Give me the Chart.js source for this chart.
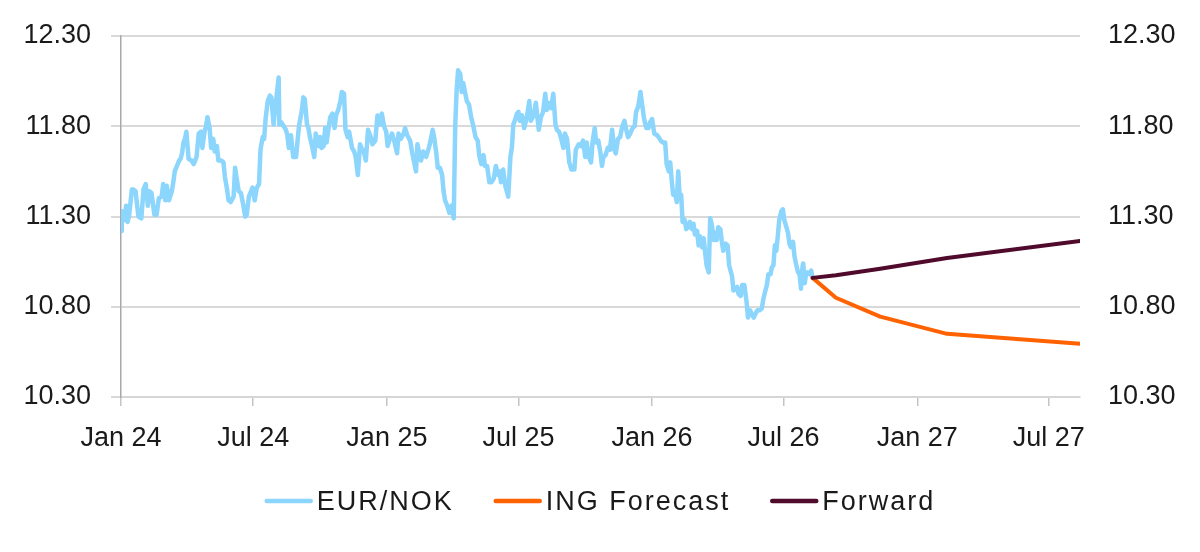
<!DOCTYPE html>
<html>
<head>
<meta charset="utf-8">
<script src="https://cdn.jsdelivr.net/npm/chart.js@4.4.1/dist/chart.umd.min.js"></script>
<style>
  html, body { margin: 0; padding: 0; background: #ffffff; }
  #wrap { width: 1200px; height: 552px; }
</style>
</head>
<body>
<div id="wrap"><canvas id="c" width="1200" height="552"></canvas></div>
<script>
// x values are days since 1 Jan 2024
const eurNokHistory = [
  [0,11.22],[1,11.33],[5,11.28],[7,11.36],[9,11.27],[11,11.30],[15,11.45],[17,11.45],[20,11.44],[24,11.30],
  [28,11.29],[31,11.45],[34,11.48],[37,11.36],[39,11.44],[42,11.43],[46,11.31],[49,11.31],[52,11.40],[56,11.41],
  [58,11.48],[61,11.39],[63,11.47],[66,11.39],[70,11.44],[72,11.49],[74,11.55],[77,11.58],[80,11.61],[82,11.62],
  [84,11.65],[86,11.71],[88,11.73],[90,11.77],[93,11.62],[97,11.61],[100,11.59],[102,11.61],[104,11.63],[107,11.76],
  [110,11.77],[112,11.68],[115,11.77],[117,11.80],[119,11.85],[122,11.79],[124,11.68],[127,11.73],[129,11.66],[132,11.69],
  [134,11.61],[138,11.61],[141,11.60],[143,11.52],[146,11.45],[148,11.39],[151,11.38],[155,11.41],[157,11.57],[160,11.49],
  [162,11.44],[165,11.43],[168,11.37],[171,11.30],[173,11.31],[176,11.41],[179,11.44],[181,11.46],[184,11.39],[187,11.46],
  [190,11.48],[192,11.67],[195,11.74],[197,11.73],[199,11.84],[202,11.94],[205,11.97],[207,11.96],[210,11.81],[212,11.89],
  [214,11.96],[217,12.07],[218,11.81],[221,11.82],[224,11.80],[227,11.78],[229,11.75],[231,11.68],[234,11.75],[237,11.63],
  [241,11.63],[243,11.72],[245,11.80],[249,11.89],[251,11.96],[253,11.95],[256,11.81],[258,11.79],[260,11.74],[263,11.69],
  [266,11.63],[268,11.76],[272,11.69],[274,11.74],[276,11.68],[279,11.69],[281,11.79],[283,11.71],[285,11.77],[288,11.85],
  [291,11.87],[294,11.79],[296,11.86],[299,11.89],[302,11.94],[304,11.99],[307,11.98],[309,11.78],[312,11.74],[314,11.77],
  [318,11.68],[321,11.66],[323,11.63],[326,11.53],[329,11.70],[331,11.68],[334,11.66],[337,11.61],[340,11.78],[343,11.75],
  [346,11.70],[350,11.72],[353,11.86],[356,11.81],[359,11.87],[362,11.80],[365,11.77],[367,11.69],[370,11.73],[373,11.76],
  [376,11.72],[380,11.65],[382,11.76],[385,11.73],[389,11.76],[391,11.79],[394,11.75],[398,11.72],[401,11.65],[403,11.61],
  [406,11.55],[408,11.70],[411,11.64],[413,11.61],[416,11.66],[420,11.63],[423,11.67],[425,11.70],[429,11.78],[431,11.74],
  [434,11.65],[436,11.57],[439,11.57],[442,11.53],[444,11.44],[446,11.39],[449,11.36],[452,11.32],[455,11.36],[458,11.29],
  [460,11.80],[462,12.00],[464,12.11],[467,12.09],[469,11.99],[471,12.04],[476,11.94],[479,11.92],[482,11.85],[485,11.80],
  [488,11.74],[491,11.72],[493,11.64],[496,11.59],[499,11.64],[501,11.58],[504,11.58],[507,11.49],[510,11.49],[513,11.51],
  [516,11.58],[519,11.53],[521,11.55],[523,11.49],[526,11.56],[529,11.47],[531,11.44],[533,11.41],[536,11.63],[538,11.68],
  [540,11.81],[542,11.83],[545,11.87],[547,11.88],[549,11.83],[552,11.86],[555,11.79],[559,11.86],[562,11.94],[564,11.83],
  [568,11.86],[571,11.93],[575,11.78],[578,11.85],[581,11.88],[584,11.98],[586,11.89],[588,11.93],[592,11.90],[595,11.98],
  [598,11.81],[600,11.78],[603,11.77],[606,11.73],[609,11.68],[611,11.76],[614,11.73],[617,11.60],[620,11.56],[624,11.56],
  [626,11.67],[630,11.70],[633,11.69],[636,11.72],[639,11.63],[641,11.71],[644,11.63],[647,11.60],[649,11.71],[652,11.79],
  [654,11.71],[657,11.72],[660,11.65],[662,11.58],[664,11.63],[667,11.64],[670,11.68],[673,11.67],[676,11.78],[679,11.67],
  [681,11.65],[684,11.73],[687,11.74],[690,11.80],[693,11.83],[696,11.77],[698,11.74],[701,11.76],[704,11.79],[707,11.80],
  [709,11.88],[712,11.91],[715,11.99],[718,11.90],[720,11.84],[723,11.79],[726,11.79],[728,11.82],[731,11.84],[734,11.76],
  [738,11.75],[740,11.74],[743,11.72],[746,11.71],[749,11.71],[751,11.59],[754,11.55],[756,11.60],[758,11.50],[760,11.42],
  [763,11.42],[765,11.38],[767,11.55],[769,11.41],[771,11.42],[773,11.27],[776,11.28],[778,11.23],[781,11.24],[783,11.27],
  [786,11.23],[788,11.26],[790,11.20],[793,11.22],[795,11.14],[797,11.19],[800,11.13],[802,11.18],[804,11.10],[806,11.03],
  [809,10.99],[811,11.29],[813,11.26],[816,11.17],[818,11.21],[820,11.17],[822,11.24],[825,11.23],[827,11.16],[829,11.11],
  [832,11.15],[835,11.14],[837,11.03],[841,10.97],[843,10.89],[845,10.90],[848,10.91],[850,10.87],[853,10.86],[855,10.92],
  [858,10.92],[861,10.83],[863,10.74],[866,10.78],[868,10.76],[871,10.74],[873,10.76],[876,10.78],[879,10.78],[882,10.79],
  [884,10.84],[887,10.89],[889,10.92],[891,10.98],[894,10.98],[896,11.02],[898,11.03],[900,11.14],[902,11.11],[904,11.19],
  [906,11.28],[909,11.33],[911,11.34],[913,11.28],[916,11.24],[918,11.21],[920,11.15],[922,11.13],[925,11.16],[927,11.08],
  [929,11.04],[932,10.99],[934,10.98],[936,10.90],[938,11.02],[939,11.04],[941,10.93],[943,10.98],[945,10.99],[948,10.98],
  [950,11.00],[952,10.96]
];

// forecast horizons: spot, 1M, 3M, 6M, 12M (days since 1 Jan 2024)
const forecastDays = [952, 984, 1045, 1137, 1320];
const ingForecast  = [10.96, 10.85, 10.745, 10.65, 10.595];
const forwardCurve = [10.96, 10.975, 11.01, 11.07, 11.165];

const xTickDays   = [0, 182, 366, 547, 731, 912, 1096, 1277];
const xTickLabels = ['Jan 24', 'Jul 24', 'Jan 25', 'Jul 25', 'Jan 26', 'Jul 26', 'Jan 27', 'Jul 27'];
const yMin = 10.30, yMax = 12.30, yStep = 0.5;
const xMax = 1320;

const seriesNames  = ['EUR/NOK', 'ING Forecast', 'Forward'];
const seriesColors = ['#8CD5FC', '#FF6200', '#4F0A2C'];

const FONT = "'Liberation Sans', Arial, sans-serif";
const FONT_SIZE = 27;
const TEXT_COLOR = '#1a1a1a';

const lineLegend = {
  id: 'lineLegend',
  afterDraw(chart) {
    const ctx = chart.ctx;
    ctx.save();
    ctx.font = FONT_SIZE + 'px ' + FONT;
    if ('letterSpacing' in ctx) ctx.letterSpacing = '2px';
    const lineLen = 48, textGap = 4, itemGap = 40;
    const items = chart.data.datasets.slice().sort((a, b) => a.legendIndex - b.legendIndex);
    const widths = items.map(d => lineLen + textGap + ctx.measureText(d.label).width);
    const total = widths.reduce((a, b) => a + b, 0) + itemGap * (items.length - 1);
    let x = (chart.width - total) / 2;
    const y = chart.height - 51;
    items.forEach((d, i) => {
      ctx.strokeStyle = d.borderColor;
      ctx.lineWidth = 4.5;
      ctx.lineCap = 'round';
      ctx.beginPath();
      ctx.moveTo(x + 2, y);
      ctx.lineTo(x + lineLen - 2, y);
      ctx.stroke();
      ctx.fillStyle = TEXT_COLOR;
      ctx.textBaseline = 'middle';
      ctx.textAlign = 'left';
      ctx.fillText(d.label, x + lineLen + textGap, y + 2);
      x += widths[i] + itemGap;
    });
    ctx.restore();
  }
};

const toPts = (xs, ys) => xs.map((x, i) => ({ x: x, y: ys[i] }));
const yTickList = s => {
  const t = [];
  for (let v = yMin; v <= yMax + 1e-9; v += yStep) t.push({ value: +v.toFixed(2) });
  s.ticks = t;
};

new Chart(document.getElementById('c'), {
  type: 'line',
  data: {
    datasets: [
      {
        label: seriesNames[0], legendIndex: 0, order: 2,
        data: eurNokHistory.map(p => ({ x: p[0], y: p[1] })),
        borderColor: seriesColors[0], borderWidth: 4.5,
        pointRadius: 0, tension: 0, borderJoinStyle: 'round', borderCapStyle: 'round',
        yAxisID: 'y'
      },
      {
        label: seriesNames[1], legendIndex: 1, order: 1,
        data: toPts(forecastDays, ingForecast),
        borderColor: seriesColors[1], borderWidth: 4,
        pointRadius: 0, tension: 0, borderJoinStyle: 'round', borderCapStyle: 'round',
        yAxisID: 'y'
      },
      {
        label: seriesNames[2], legendIndex: 2, order: 0,
        data: toPts(forecastDays, forwardCurve),
        borderColor: seriesColors[2], borderWidth: 4,
        pointRadius: 0, tension: 0, borderJoinStyle: 'round', borderCapStyle: 'round',
        yAxisID: 'y'
      }
    ]
  },
  options: {
    responsive: false,
    animation: false,
    devicePixelRatio: 1,
    layout: { padding: { top: 36, bottom: 80, left: 0, right: 0 } },
    plugins: { legend: { display: false }, tooltip: { enabled: false } },
    scales: {
      x: {
        type: 'linear', min: 0, max: xMax,
        afterBuildTicks: s => { s.ticks = xTickDays.map(v => ({ value: v })); },
        afterFit: s => { s.height = 75; s.paddingLeft = 0; s.paddingRight = 0; },
        ticks: {
          autoSkip: false, maxRotation: 0, padding: 16,
          color: TEXT_COLOR, font: { family: FONT, size: FONT_SIZE },
          callback: v => xTickLabels[xTickDays.indexOf(v)]
        },
        grid: { display: true, drawOnChartArea: false, drawTicks: true, tickLength: 9, color: '#c4c4c4', lineWidth: 1.5 },
        border: { display: true, color: '#d6d6d6', width: 2 }
      },
      y: {
        position: 'left', min: yMin, max: yMax,
        afterBuildTicks: yTickList,
        afterFit: s => { s.width = 121; s.paddingTop = 0; s.paddingBottom = 0; },
        ticks: {
          padding: 20, color: TEXT_COLOR, font: { family: FONT, size: FONT_SIZE },
          callback: v => v.toFixed(2)
        },
        grid: { color: '#d9d9d9', lineWidth: 2, tickLength: 10, drawTicks: true },
        border: { display: true, color: '#a8a8a8', width: 1.5 }
      },
      y2: {
        position: 'right', min: yMin, max: yMax,
        afterBuildTicks: yTickList,
        afterFit: s => { s.width = 120; s.paddingTop = 0; s.paddingBottom = 0; },
        ticks: {
          padding: 28, color: TEXT_COLOR, font: { family: FONT, size: FONT_SIZE },
          callback: v => v.toFixed(2)
        },
        grid: { display: false, drawTicks: false },
        border: { display: false }
      }
    }
  },
  plugins: [lineLegend]
});
</script>
</body>
</html>
